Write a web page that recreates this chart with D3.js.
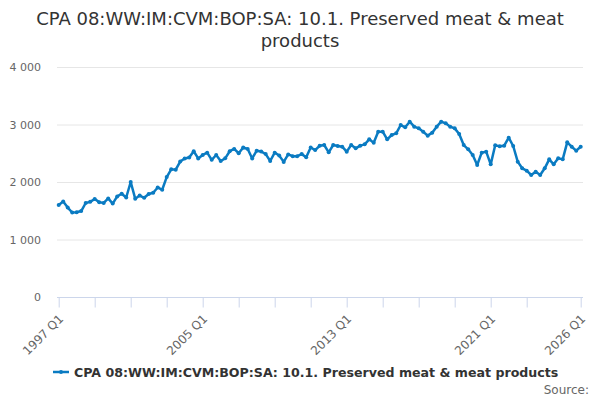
<!DOCTYPE html>
<html>
<head>
<meta charset="utf-8">
<script src="https://cdn.jsdelivr.net/npm/d3@7"></script>
<style>
  body { margin: 0; background: #fff; }
  svg { display: block; font-family: "DejaVu Sans", sans-serif; }
</style>
</head>
<body>
<div id="chart"></div>
<script>
// quarterly categories, 1997 Q1 .. 2026 Q1
var firstYear = 1997;
var lastYear = 2026;
var categories = [];
for (var yr = firstYear; yr <= lastYear; yr++) {
	for (var q = 1; q <= 4; q++) {
		if (yr === lastYear && q > 1) break;
		categories.push(yr + " Q" + q);
	}
}

// values
var values = [
	1600, 1660, 1555, 1470, 1475, 1495, 1635, 1655, 1705, 1650,
	1635, 1715, 1625, 1750, 1795, 1730, 2000, 1710, 1765, 1725,
	1790, 1812, 1905, 1865, 2085, 2220, 2215, 2355, 2410, 2425,
	2535, 2410, 2470, 2510, 2385, 2470, 2365, 2412, 2535, 2575,
	2500, 2600, 2575, 2410, 2545, 2530, 2485, 2365, 2510, 2460,
	2350, 2480, 2450, 2450, 2485, 2430, 2600, 2555, 2630, 2643,
	2516, 2643, 2626, 2614, 2528, 2643, 2586, 2632, 2655, 2742,
	2684, 2875, 2875, 2742, 2817, 2846, 2991, 2951, 3049, 2962,
	2933, 2875, 2806, 2858, 2962, 3049, 3020, 2962, 2933, 2835,
	2643, 2568, 2470, 2296, 2510, 2528, 2307, 2640, 2620, 2632,
	2771, 2626, 2354, 2238, 2197, 2122, 2180, 2122, 2238, 2394,
	2307, 2412, 2394, 2690, 2614, 2545, 2614
];

var seriesName = "CPA 08:WW:IM:CVM:BOP:SA: 10.1. Preserved meat & meat products";
var yTicks = [0, 1000, 2000, 3000, 4000];
var xTickLabels = ["1997 Q1", "2005 Q1", "2013 Q1", "2021 Q1", "2026 Q1"];
var xTickMarks = ["1997 Q1", "1999 Q1", "2001 Q1", "2003 Q1", "2005 Q1", "2007 Q1",
	"2009 Q1", "2011 Q1", "2013 Q1", "2015 Q1", "2017 Q1", "2019 Q1",
	"2021 Q1", "2023 Q1", "2026 Q1"];

var width = 600, height = 400;
var lineColor = "#0a7bc2";

var svg = d3.select("#chart")
	.append("svg")
	.attr("width", width)
	.attr("height", height);

var x = d3.scalePoint()
	.domain(categories)
	.range([58.7, 580.7]);

var y = d3.scaleLinear()
	.domain([0, 4000])
	.range([297, 67]);

var fmt = d3.formatLocale({ decimal: ".", thousands: " ", grouping: [3], currency: ["", ""] }).format(",");

// title
svg.append("text")
	.attr("x", width / 2)
	.attr("text-anchor", "middle")
	.style("font-size", "18px")
	.style("fill", "#333")
	.selectAll("tspan")
	.data(["CPA 08:WW:IM:CVM:BOP:SA: 10.1. Preserved meat & meat", "products"])
	.enter()
	.append("tspan")
		.attr("x", width / 2)
		.attr("y", function (d, i) { return 25 + i * 22; })
		.text(function (d) { return d; });

// grid lines
svg.append("g")
	.selectAll("line")
	.data(yTicks.filter(function (d) { return d > 0; }))
	.enter()
	.append("line")
		.attr("x1", 57)
		.attr("x2", 583)
		.attr("y1", function (d) { return y(d) + 0.5; })
		.attr("y2", function (d) { return y(d) + 0.5; })
		.style("stroke", "#e6e6e6");

// y labels
svg.append("g")
	.selectAll("text")
	.data(yTicks)
	.enter()
	.append("text")
		.attr("x", 41)
		.attr("y", function (d) { return y(d) + 4; })
		.attr("text-anchor", "end")
		.style("font-size", "11px")
		.style("fill", "#666")
		.text(function (d) { return fmt(d); });

// x axis line, ticks, labels
var xAxis = d3.axisBottom(x)
	.tickValues(xTickMarks)
	.tickSize(10)
	.tickSizeOuter(0)
	.tickFormat(function (d) { return xTickLabels.indexOf(d) >= 0 ? d : ""; });

var gx = svg.append("g")
	.attr("transform", "translate(0,297.5)")
	.call(xAxis);

gx.select(".domain")
	.attr("d", "M57,0H583")
	.style("stroke", "#ccd6eb");
gx.selectAll(".tick line").style("stroke", "#ccd6eb");
gx.selectAll(".tick text")
	.attr("text-anchor", "end")
	.attr("dy", null)
	.attr("y", 0)
	.attr("transform", "translate(5,22) rotate(-45)")
	.style("font-size", "12px")
	.style("font-family", "DejaVu Sans, sans-serif")
	.style("fill", "#666");

// series line
var line = d3.line()
	.x(function (d, i) { return x(categories[i]); })
	.y(function (d) { return y(d); });

svg.append("path")
	.datum(values)
	.attr("d", line)
	.style("fill", "none")
	.style("stroke", lineColor)
	.style("stroke-width", 2.5)
	.style("stroke-linejoin", "round");

svg.append("g")
	.selectAll("circle")
	.data(values)
	.enter()
	.append("circle")
		.attr("cx", function (d, i) { return x(categories[i]); })
		.attr("cy", function (d) { return y(d); })
		.attr("r", 2)
		.style("fill", lineColor);

// legend
var legend = svg.append("g").attr("transform", "translate(53,372)");
legend.append("line")
	.attr("x1", 0).attr("x2", 16)
	.style("stroke", lineColor)
	.style("stroke-width", 2.5);
legend.append("circle")
	.attr("cx", 8).attr("r", 2)
	.style("fill", lineColor);
legend.append("text")
	.attr("x", 21)
	.attr("y", 4.5)
	.style("font-size", "12.6px")
	.style("font-weight", "bold")
	.style("fill", "#333")
	.text(seriesName);

// source
svg.append("text")
	.attr("x", 589)
	.attr("y", 394)
	.attr("text-anchor", "end")
	.style("font-size", "12px")
	.style("fill", "#666")
	.text("Source:");
</script>
</body>
</html>
